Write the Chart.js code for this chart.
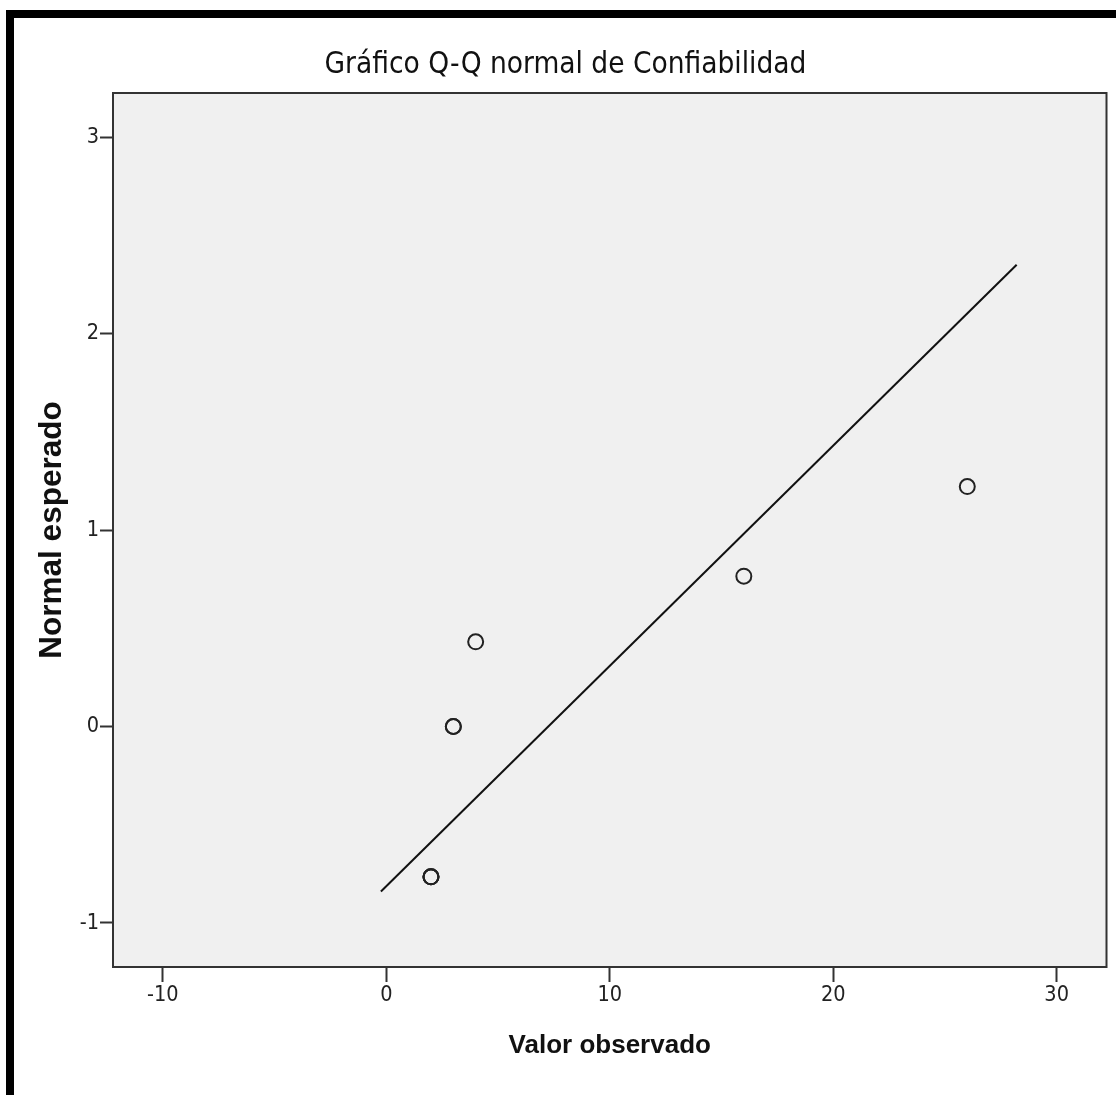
<!DOCTYPE html>
<html>
<head>
<meta charset="utf-8">
<title>Gráfico Q-Q normal de Confiabilidad</title>
<script src="https://cdn.jsdelivr.net/npm/chart.js@4/dist/chart.umd.min.js"></script>
<style>
  html, body { margin: 0; padding: 0; background: #fff; }
  #wrap { position: relative; width: 1116px; height: 1095px; overflow: hidden; }
  #frame { position: absolute; left: 6px; top: 10px; right: -20px; bottom: -20px;
           border-top: 8px solid #000; border-left: 8px solid #000; }
  canvas { position: absolute; left: 0; top: 0; }
</style>
</head>
<body>
<div id="wrap">
  <div id="frame"></div>
  <canvas id="qq" width="1116" height="1095"></canvas>
</div>
<script>
// Observed values of "Confiabilidad" (tied values repeated) and their expected normal scores
const observed = [2, 2, 2, 3, 3, 4, 16, 26];
const expectedNormal = [-0.765, -0.765, -0.765, 0, 0, 0.431, 0.765, 1.221];

// Reference line endpoints (x: observed value, y: expected normal)
const refLineX = [-0.24, 28.21];
const refLineY = [-0.84, 2.35];

// Axis ranges and tick steps
const xRange = [-12.23, 32.23];
const yRange = [-1.224, 3.224];
const xStep = 10;
const yStep = 1;

const chartTitle = 'Gráfico Q-Q normal de Confiabilidad';
const xTitle = 'Valor observado';
const yTitle = 'Normal esperado';

const narrow = "'DejaVu Sans Condensed', 'Liberation Sans', sans-serif";
const wide = "'Liberation Sans', Arial, sans-serif";

const points = observed.map((v, i) => ({ x: v, y: expectedNormal[i] }));
const refLine = refLineX.map((v, i) => ({ x: v, y: refLineY[i] }));

// Grey plot background and a box around the plot area
const plotFrame = {
  id: 'plotFrame',
  beforeDraw(chart) {
    const { ctx, chartArea: a } = chart;
    ctx.save();
    ctx.fillStyle = '#f0f0f0';
    ctx.fillRect(a.left, a.top, a.right - a.left, a.bottom - a.top);
    ctx.restore();
  },
  afterDraw(chart) {
    const { ctx, chartArea: a } = chart;
    ctx.save();
    ctx.strokeStyle = '#333';
    ctx.lineWidth = 2;
    ctx.strokeRect(a.left, a.top, a.right - a.left, a.bottom - a.top);
    ctx.restore();
  }
};

Chart.defaults.color = '#111';

new Chart(document.getElementById('qq'), {
  type: 'scatter',
  data: {
    datasets: [
      {
        data: refLine,
        showLine: true,
        borderColor: '#111',
        borderWidth: 2,
        pointRadius: 0,
        pointHoverRadius: 0,
        fill: false
      },
      {
        data: points,
        showLine: false,
        pointStyle: 'circle',
        pointRadius: 7.5,
        pointBorderWidth: 2,
        borderColor: '#222',
        backgroundColor: 'rgba(0,0,0,0)',
        pointBackgroundColor: 'rgba(0,0,0,0)'
      }
    ]
  },
  options: {
    responsive: false,
    animation: false,
    devicePixelRatio: 1,
    layout: { padding: { left: 23, right: 8, top: 0, bottom: 0 } },
    plugins: {
      legend: { display: false },
      tooltip: { enabled: false },
      title: {
        display: true,
        text: chartTitle,
        color: '#111',
        font: { family: narrow, size: 29.5, weight: 'normal', lineHeight: 1.2 },
        padding: { top: 47.8, bottom: 9.8 }
      }
    },
    scales: {
      x: {
        type: 'linear',
        position: 'bottom',
        min: xRange[0],
        max: xRange[1],
        afterFit(scale) { scale.height = 128; },
        border: { display: false },
        grid: { drawOnChartArea: false, drawTicks: true, tickLength: 15, tickWidth: 2, tickColor: '#333' },
        ticks: {
          stepSize: xStep,
          includeBounds: false,
          padding: 1,
          color: '#222',
          maxRotation: 0,
          font: { family: narrow, size: 21.5 }
        },
        title: {
          display: true,
          text: xTitle,
          color: '#111',
          font: { family: wide, size: 26, weight: 'bold', lineHeight: 1.2 },
          padding: { top: 0, bottom: 33.4 }
        }
      },
      y: {
        type: 'linear',
        position: 'left',
        min: yRange[0],
        max: yRange[1],
        afterFit(scale) { scale.width = 90; },
        border: { display: false },
        grid: { drawOnChartArea: false, drawTicks: true, tickLength: 13, tickWidth: 2, tickColor: '#333' },
        ticks: {
          stepSize: yStep,
          includeBounds: false,
          padding: 1,
          color: '#222',
          font: { family: narrow, size: 21.5 }
        },
        title: {
          display: true,
          text: yTitle,
          color: '#111',
          font: { family: wide, size: 31.5, weight: 'bold', lineHeight: 1.2 },
          padding: { top: 10, bottom: 0 }
        }
      }
    }
  },
  plugins: [plotFrame]
});
</script>
</body>
</html>
